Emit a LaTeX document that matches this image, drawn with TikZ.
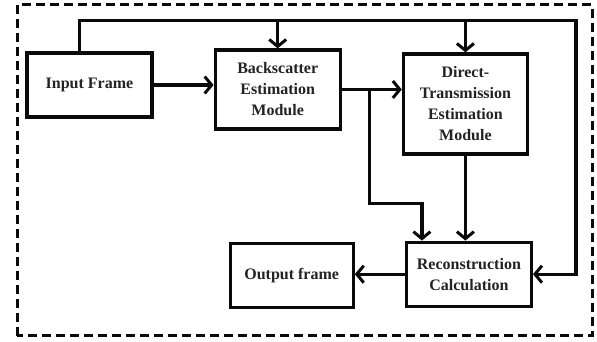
\documentclass[tikz,border=0pt]{standalone}
\usepackage{fontspec}
\setmainfont{Liberation Serif}
\usepackage{tikz}
\usetikzlibrary{arrows.meta,positioning,calc}
\definecolor{rfline}{RGB}{10,10,10}
\definecolor{rftext}{RGB}{35,35,35}
\tikzset{
  rfBlock/.style={draw=rfline, line width=3.2pt, fill=white, align=center,
                  minimum width=125pt, minimum height=64pt, inner sep=2pt,
                  text=rftext, font=\fontsize{16}{21}\selectfont\bfseries},
  rfArrow/.style={-{Straight Barb[length=7pt,width=17pt,line width=3pt]},
                  line width=3.2pt, draw=rfline},
  rfFrame/.style={line width=3pt, draw=rfline, dash pattern=on 9pt off 5pt}
}
\begin{document}
\begin{tikzpicture}[x=1pt, y=1pt]
  \useasboundingbox (0,0) rectangle (597,342);
  \draw[rfFrame] (17,6) rectangle (592,337);
  \node[rfBlock] (inp) at (89.5,257) {Input Frame};
  \node[rfBlock, right=60pt of inp, yshift=-4.5pt, minimum height=79pt] (bse) {Backscatter\\Estimation\\Module};
  \node[rfBlock, right=60pt of bse, yshift=-14.5pt, minimum width=124pt, minimum height=100pt] (dte) {Direct-\\Transmission\\Estimation\\Module};
  \node[rfBlock, below=85pt of dte, xshift=3.5pt] (rec) {Reconstruction\\Calculation};
  \node[rfBlock, left=50pt of rec, yshift=-1pt, minimum width=123pt] (out) {Output frame};
  \coordinate (fb) at ([xshift=-10pt]inp.north);
  \coordinate (fbr) at ([xshift=43pt]rec.east);
  \coordinate (rj) at ([xshift=-47pt]rec.north);
  \coordinate (br) at ($(bse.east)+(28pt,0)$);
  % feedback from the input frame
  \draw[rfArrow] (fb) -- ++(0,31pt) coordinate (tl) -| (fbr) -- (rec.east);
  \draw[rfArrow] (tl -| bse.north) -- (bse.north);
  \draw[rfArrow] (tl -| dte.north) -- (dte.north);
  \draw[rfArrow] (inp.east) -- (inp.east -| bse.west);
  \draw[rfArrow] (bse.east) -- (bse.east -| dte.west);
  \draw[rfArrow] (br) -- ++(0,-114pt) -| (rj);
  \draw[rfArrow] (dte.south) -- (dte.south |- rec.north);
  \draw[rfArrow] (rec.west) -- (rec.west -| out.east);
\end{tikzpicture}
\end{document}
